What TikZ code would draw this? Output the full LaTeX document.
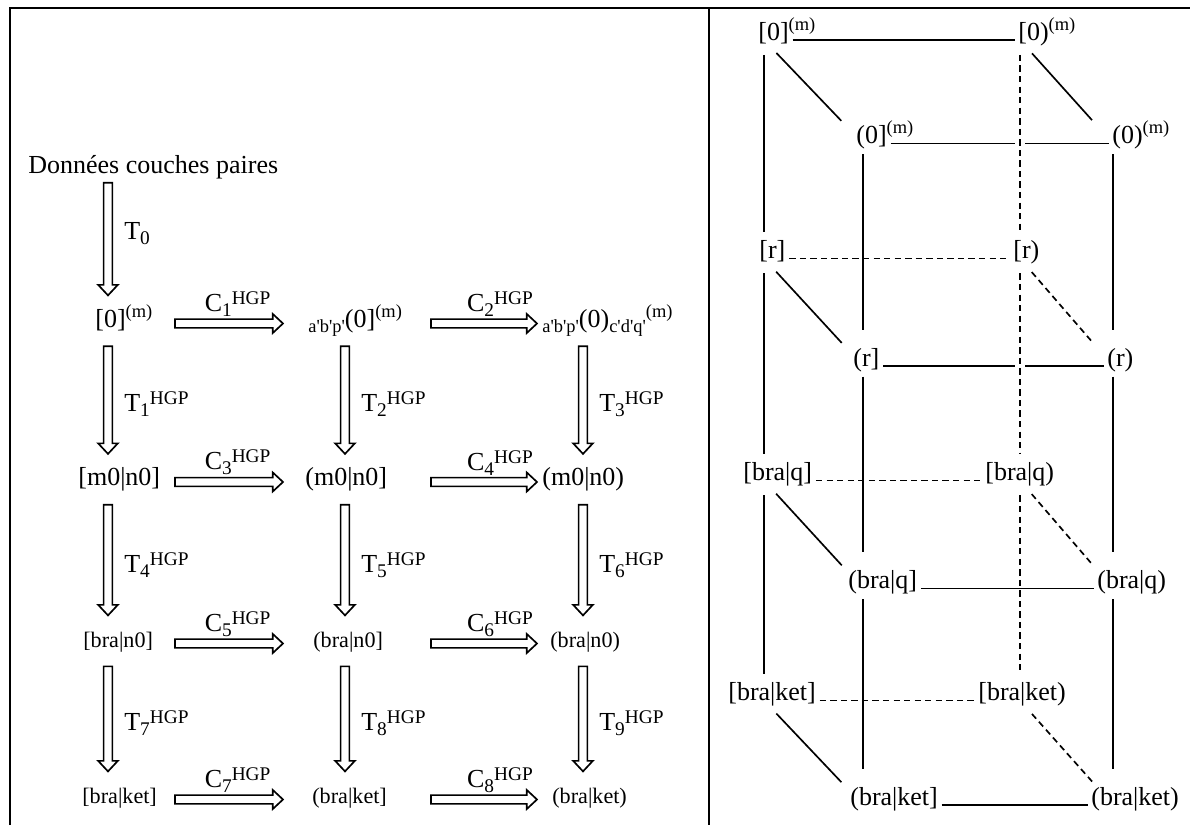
\documentclass[tikz,border=0pt]{standalone}
\usepackage{fontspec}
\setmainfont{Liberation Serif}
\usetikzlibrary{calc}
\newcommand{\fbig}{\fontsize{14.8}{17}\selectfont}
\newcommand{\fsmall}{\fontsize{12.6}{15}\selectfont}
\newcommand{\supm}[1]{\raisebox{5.6pt}{\fontsize{10.5}{12}\selectfont #1}}
\newcommand{\lowp}[1]{\raisebox{-3pt}{\fontsize{10.5}{12}\selectfont #1}}
\newcommand{\sbt}[1]{\raisebox{-2.8pt}{\fontsize{11}{12}\selectfont #1}}
\newcommand{\hgp}[2]{#1\sbt{#2}\raisebox{4pt}{\fontsize{11}{12}\selectfont HGP}}
\newcommand{\pq}{\textquotesingle}
\tikzset{
  txt/.style={inner sep=2pt, font=\fbig, anchor=base west},
  lab/.style={inner sep=1pt, font=\fbig},
  frame/.style={line width=1.3pt},
  hollow/.style={draw, line width=0.95pt, line join=miter},
  arrtop/.store in=\arrtop, arrtop=11pt,
  arrtip/.store in=\arrtip, arrtip=18pt,
  varrow/.style={hollow, to path={let \p1=(\tikztostart), \p2=(\tikztotarget) in
    (\x1+2.5pt,\y1-\arrtop) -- (\x1+2.5pt,\y2+\arrtip+6pt) \tikztonodes
    -- (\x1+5.6pt,\y2+\arrtip+6pt) -- (\x1,\y2+\arrtip) -- (\x1-5.6pt,\y2+\arrtip+6pt)
    -- (\x1-2.5pt,\y2+\arrtip+6pt) -- (\x1-2.5pt,\y1-\arrtop) -- cycle}},
  harrow/.style={hollow, to path={let \p1=(\tikztostart), \p2=(\tikztotarget) in
    (\x1,\y1+4.5pt) -- (\x2-5.8pt,\y1+4.5pt) \tikztonodes
    -- (\x2-5.8pt,\y1+7.4pt) -- (\x2,\y1+2pt) -- (\x2-5.8pt,\y1-3.4pt)
    -- (\x2-5.8pt,\y1-0.5pt) -- (\x1,\y1-0.5pt) -- cycle}},
  tl/.style={lab, right, xshift=5.3pt, pos=0.6},
  cl/.style={lab, above, pos=0.64},
  ln/.style={line width=0.95pt},
  hid/.style={ln, dash pattern=on 3.6pt off 2.4pt},
  rear/.style={shorten <=8.5pt, shorten >=15.3pt},
  front/.style={shorten <=6pt, shorten >=20.7pt},
  diag/.style={shorten <=10.2pt, shorten >=17.9pt}
}
\begin{document}
\begin{tikzpicture}[x=0.02cm, y=-0.02cm]
  \useasboundingbox (0,0) rectangle (1190,825);
  % table rules
  \draw[frame] (10,825) -- (10,8) -- (1190,8);
  \draw[frame] (709,8) -- (709,825);

  % left: chain of transformations
  \coordinate (c1) at (108,0);
  \coordinate (c2) at (345,0);
  \coordinate (c3) at (583,0);
  \coordinate (ha) at (175,0);
  \coordinate (hb) at (283,0);
  \coordinate (hc) at (431,0);
  \coordinate (hd) at (537,0);
  \node[txt] (d0) at (24.5,173) {Données couches paires};
  \node[txt] (n11) at (91.5,327) {[0]\supm{(m)}};
  \node[txt] (n12) at (304.5,327) {\lowp{a\pq b\pq p\pq}(0]\supm{(m)}};
  \node[txt] (n13) at (538.5,327) {\lowp{a\pq b\pq p\pq}(0)\lowp{c\pq d\pq q\pq}\supm{(m)}};
  \node[txt] (n21) at (74.5,485.5) {[m0|n0]};
  \node[txt] (n22) at (301.5,485.5) {(m0|n0]};
  \node[txt] (n23) at (538.5,485.5) {(m0|n0)};
  \node[txt, font=\fsmall] (n31) at (79.5,647) {[bra|n0]};
  \node[txt, font=\fsmall] (n32) at (309.5,647) {(bra|n0]};
  \node[txt, font=\fsmall] (n33) at (546.5,647) {(bra|n0)};
  \node[txt, font=\fsmall] (n41) at (78.5,803) {[bra|ket]};
  \node[txt, font=\fsmall] (n42) at (308.5,803) {(bra|ket]};
  \node[txt, font=\fsmall] (n43) at (548.5,803) {(bra|ket)};

  \draw[varrow, arrtop=5.5pt] (d0.base -| c1) to node[tl, pos=0.5] {T\sbt{0}} (n11.base -| c1);
  \draw[varrow] (n11.base -| c1) to node[tl] {\hgp{T}{1}} (n21.base -| c1);
  \draw[varrow] (n12.base -| c2) to node[tl] {\hgp{T}{2}} (n22.base -| c2);
  \draw[varrow] (n13.base -| c3) to node[tl] {\hgp{T}{3}} (n23.base -| c3);
  \draw[varrow] (n21.base -| c1) to node[tl] {\hgp{T}{4}} (n31.base -| c1);
  \draw[varrow] (n22.base -| c2) to node[tl] {\hgp{T}{5}} (n32.base -| c2);
  \draw[varrow] (n23.base -| c3) to node[tl] {\hgp{T}{6}} (n33.base -| c3);
  \draw[varrow] (n31.base -| c1) to node[tl] {\hgp{T}{7}} (n41.base -| c1);
  \draw[varrow] (n32.base -| c2) to node[tl] {\hgp{T}{8}} (n42.base -| c2);
  \draw[varrow] (n33.base -| c3) to node[tl] {\hgp{T}{9}} (n43.base -| c3);

  \draw[harrow] (n11.base -| ha) to node[cl] {\hgp{C}{1}} (n12.base -| hb);
  \draw[harrow] (n12.base -| hc) to node[cl, pos=0.72] {\hgp{C}{2}} (n13.base -| hd);
  \draw[harrow] (n21.base -| ha) to node[cl] {\hgp{C}{3}} (n22.base -| hb);
  \draw[harrow] (n22.base -| hc) to node[cl, pos=0.72] {\hgp{C}{4}} (n23.base -| hd);
  \draw[harrow] (n31.base -| ha) to node[cl] {\hgp{C}{5}} (n32.base -| hb);
  \draw[harrow] (n32.base -| hc) to node[cl, pos=0.72] {\hgp{C}{6}} (n33.base -| hd);
  \draw[harrow] (n41.base -| ha) to node[cl] {\hgp{C}{7}} (n42.base -| hb);
  \draw[harrow] (n42.base -| hc) to node[cl, pos=0.72] {\hgp{C}{8}} (n43.base -| hd);

  % right: the cube
  \coordinate (cA) at (764,0);
  \coordinate (cB) at (863,0);
  \coordinate (cD) at (1020,0);
  \coordinate (cE) at (1113,0);
  \coordinate (gl) at (1015,0);
  \coordinate (gr) at (1025,0);
  \node[txt] (b00) at (754.5,40) {[0]\rlap{\supm{(m)}}};
  \node[txt] (b01) at (1014.5,40) {[0)\rlap{\supm{(m)}}};
  \node[txt] (f00) at (852.5,143.5) {(0]\rlap{\supm{(m)}}};
  \node[txt] (f01) at (1108.5,143.5) {(0)\rlap{\supm{(m)}}};
  \node[txt] (b10) at (755.5,258.5) {[r]};
  \node[txt] (b11) at (1009.5,258.5) {[r)};
  \node[txt] (f10) at (849.5,366) {(r]};
  \node[txt] (f11) at (1103.5,366) {(r)};
  \node[txt] (b20) at (739.5,480.5) {[bra|q]};
  \node[txt] (b21) at (981.5,480.5) {[bra|q)};
  \node[txt] (f20) at (844.5,588.5) {(bra|q]};
  \node[txt] (f21) at (1093.5,588.5) {(bra|q)};
  \node[txt] (b30) at (724.5,700.5) {[bra|ket]};
  \node[txt] (b31) at (974.5,700.5) {[bra|ket)};
  \node[txt] (f30) at (846.5,805) {(bra|ket]};
  \node[txt] (f31) at (1087.5,805) {(bra|ket)};

  \foreach \a/\b in {b00/b10, b10/b20, b20/b30}
    \draw[ln, rear] (\a.base -| cA) -- (\b.base -| cA);
  \foreach \a/\b in {b01/b11, b11/b21, b21/b31}
    \draw[hid, rear] (\a.base -| cD) -- (\b.base -| cD);
  \foreach \a/\b in {f00/f10, f10/f20, f20/f30}
    \draw[ln, front] (\a.base -| cB) -- (\b.base -| cB);
  \foreach \a/\b in {f01/f11, f11/f21, f21/f31}
    \draw[ln, front] (\a.base -| cE) -- (\b.base -| cE);

  \draw[ln] (b00.base east) -- (b01.base west);
  \draw[hid] (b10.base east) -- (b11.base west);
  \draw[hid] (b20.base east) -- (b21.base west);
  \draw[hid] (b30.base east) -- (b31.base west);
  \draw[ln] (f00.base east) -- (f00.base east -| gl) (f00.base east -| gr) -- (f01.base west);
  \draw[ln] (f10.base east) -- (f10.base east -| gl) (f10.base east -| gr) -- (f11.base west);
  \draw[ln] (f20.base east) -- (f21.base west);
  \draw[ln] (f30.base east) -- (f31.base west);

  \foreach \a/\b in {b00/f00, b10/f10, b20/f20, b30/f30}
    \draw[ln, diag] (\a.base -| cA) -- (\b.base -| cB);
  \draw[ln, diag] (b01.base -| cD) -- (f01.base -| cE);
  \foreach \a/\b in {b11/f11, b21/f21, b31/f31}
    \draw[hid, diag] (\a.base -| cD) -- (\b.base -| cE);
\end{tikzpicture}
\end{document}
